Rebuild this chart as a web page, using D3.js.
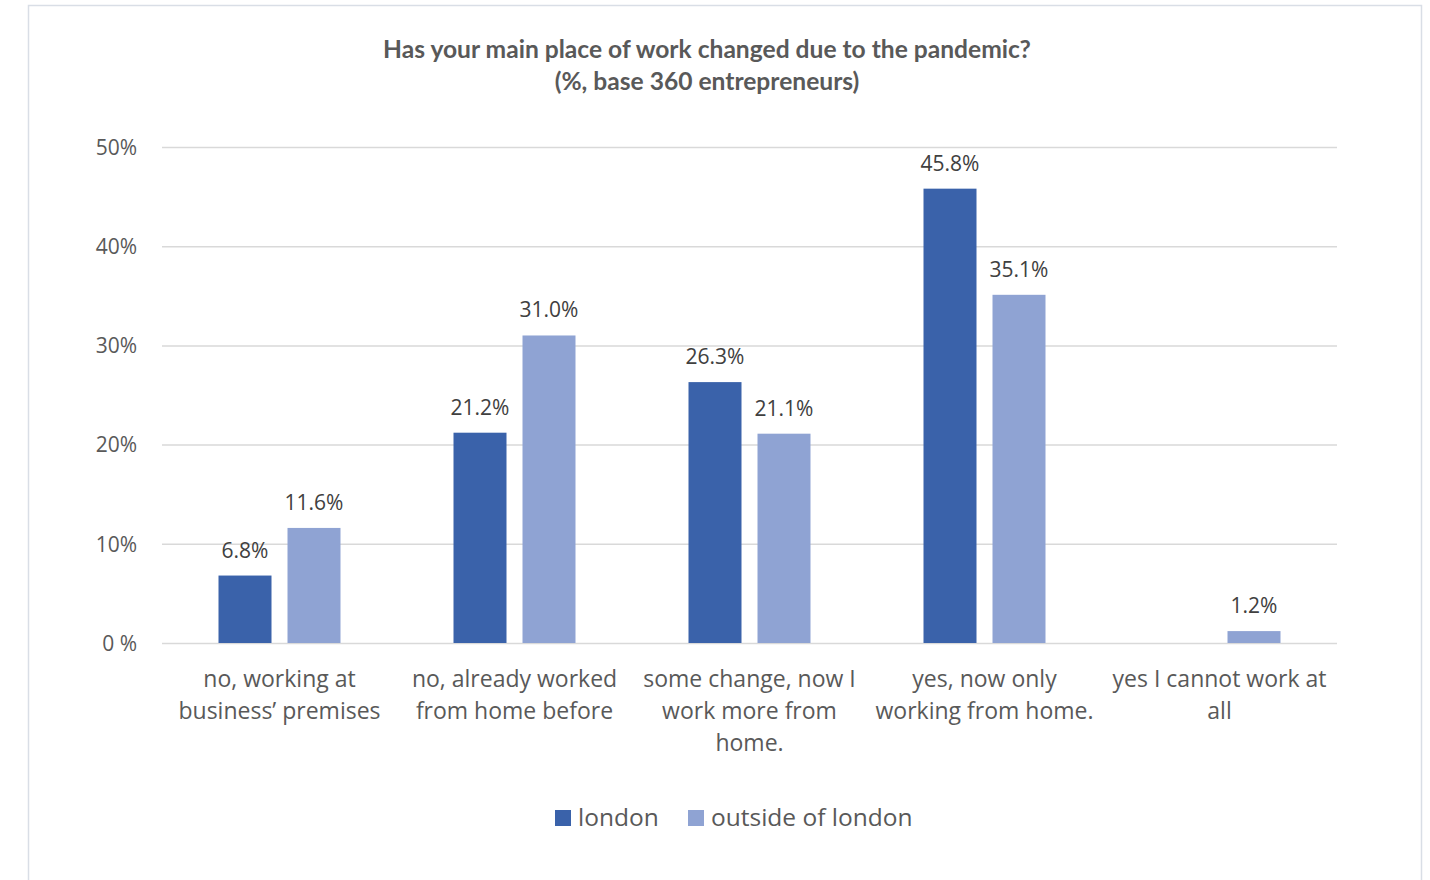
<!DOCTYPE html>
<html><head><meta charset="utf-8">
<script src="https://cdn.jsdelivr.net/npm/d3@7"></script>
<style>body{margin:0;background:#fff;}svg{display:block;}</style>
</head><body>
<svg id="c" width="1430" height="880"></svg>
<script>
const categories = [
  ["no, working at", "business\u2019 premises"],
  ["no, already worked", "from home before"],
  ["some change, now I", "work more from", "home."],
  ["yes, now only", "working from home."],
  ["yes I cannot work at", "all"]
];
const london = [6.8, 21.2, 26.3, 45.8, null];
const outside = [11.6, 31.0, 21.1, 35.1, 1.2];
const seriesNames = ["london", "outside of london"];
const yTicks = [0, 10, 20, 30, 40, 50];
const titleLines = ["Has your main place of work changed due to the pandemic?", "(%,  base 360 entrepreneurs)"];

const colors = ["#3A62AA", "#8FA3D3"];
const txt = "#595959";
const svg = d3.select("#c");

// frame
svg.append("rect").attr("x", 28.5).attr("y", 5.5).attr("width", 1393).attr("height", 900)
  .attr("fill", "#fff").attr("stroke", "#d9dee6").attr("stroke-width", 1.5);

// title
svg.append("g").selectAll("text").data(titleLines).join("text")
  .attr("x", 707).attr("y", (d, i) => 58 + i * 32)
  .attr("text-anchor", "middle").attr("font-family", "Lato, 'Open Sans', sans-serif")
  .attr("font-weight", "bold").attr("font-size", 24.6).attr("fill", txt).text(d => d);

const x0 = d3.scaleBand().domain(d3.range(categories.length)).range([162, 1337]);
const y = d3.scaleLinear().domain([0, 50]).range([643, 147]);

// gridlines via axis
const yAxis = d3.axisLeft(y).tickValues(yTicks).tickSize(-(1337 - 162)).tickFormat(d => d === 0 ? "0 %" : d + "%");
const ga = svg.append("g").attr("transform", "translate(162,0)").call(yAxis);
ga.select(".domain").remove();
ga.selectAll(".tick line").attr("stroke", "#d9d9d9").attr("stroke-width", 1.5);
ga.selectAll(".tick text").attr("x", -25).attr("dy", "0.35em").attr("font-family", "'Open Sans', sans-serif")
  .attr("font-size", 21).attr("fill", txt);

const data = categories.map((c, i) => [london[i], outside[i]]);
const barW = 53, gap = 16;
const xs = d3.scaleOrdinal().domain([0, 1]).range([-(gap / 2 + barW), gap / 2]);

const groups = svg.append("g").selectAll("g").data(data).join("g")
  .attr("transform", (d, i) => `translate(${x0(i) + x0.bandwidth() / 2},0)`);

groups.selectAll("rect").data(d => d.map((v, s) => ({v, s})).filter(o => o.v != null)).join("rect")
  .attr("x", o => xs(o.s)).attr("width", barW)
  .attr("y", o => y(o.v)).attr("height", o => y(0) - y(o.v))
  .attr("fill", o => colors[o.s]);

groups.selectAll("text.lbl").data(d => d.map((v, s) => ({v, s})).filter(o => o.v != null)).join("text")
  .attr("class", "lbl")
  .attr("x", o => xs(o.s) + barW / 2).attr("y", o => y(o.v) - 18)
  .attr("text-anchor", "middle").attr("font-family", "'Open Sans', sans-serif")
  .attr("font-size", 21).attr("fill", "#404040").text(o => o.v.toFixed(1) + "%");

// category labels
const cl = svg.append("g").selectAll("text").data(categories).join("text")
  .attr("text-anchor", "middle").attr("font-family", "'Open Sans', sans-serif")
  .attr("font-size", 23).attr("fill", txt)
  .attr("transform", (d, i) => `translate(${x0(i) + x0.bandwidth() / 2},687)`);
cl.selectAll("tspan").data(d => d).join("tspan").attr("x", 0).attr("y", (d, i) => i * 32).text(d => d);

// legend
const leg = [{x: 555, tx: 578}, {x: 688, tx: 711}];
const lg = svg.append("g").selectAll("g").data(seriesNames).join("g");
lg.append("rect").attr("x", (d, i) => leg[i].x).attr("y", 810).attr("width", 16).attr("height", 16).attr("fill", (d, i) => colors[i]);
lg.append("text").attr("x", (d, i) => leg[i].tx).attr("y", 826).attr("font-family", "'Open Sans', sans-serif")
  .attr("font-size", 24.5).attr("fill", txt).text(d => d);
</script>
</body></html>
